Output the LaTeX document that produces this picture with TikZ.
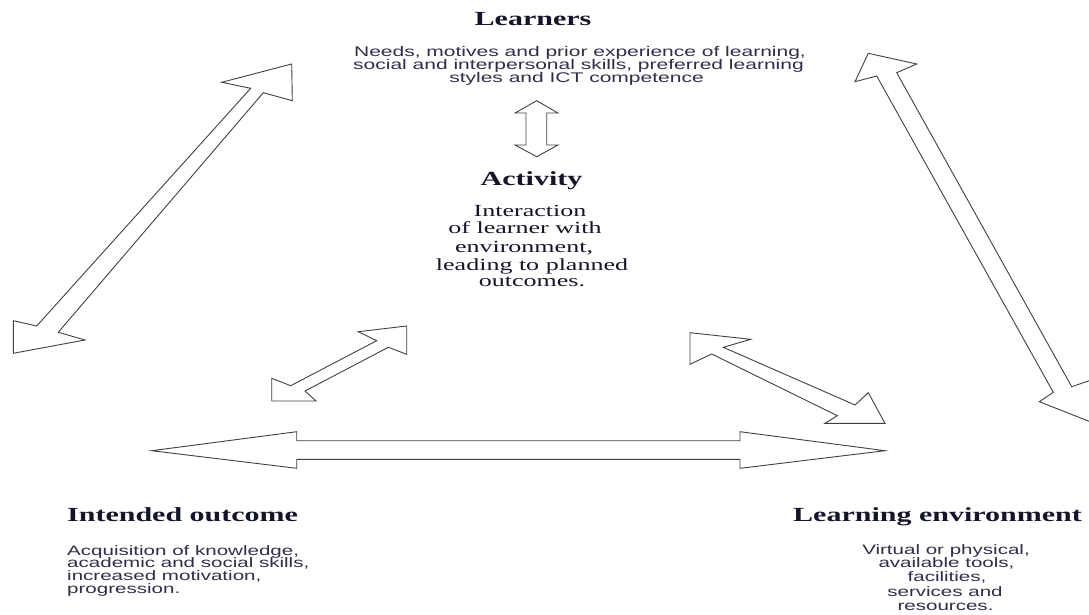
\documentclass[tikz,border=0pt]{standalone}
\usepackage{fontspec}
\newfontfamily\headfont{Liberation Serif}[FakeStretch=1.5]
\newfontfamily\bodyserif{Liberation Serif}[FakeStretch=1.53]
\newfontfamily\bodysans{Liberation Sans}[FakeStretch=1.5]
\definecolor{headcol}{HTML}{15152A}
\definecolor{bodycol}{HTML}{2E2E48}
\begin{document}
\begin{tikzpicture}[x=1pt,y=-1pt,
  heading/.style={font={\headfont\bfseries\fontsize{20}{24}\selectfont}, text=headcol, inner sep=0pt},
  sanstext/.style={font={\bodysans\fontsize{14}{16}\selectfont}, text=bodycol, inner sep=0pt, anchor=base},
  sanslow/.style={font={\bodysans\fontsize{13.7}{16}\selectfont}, text=bodycol, inner sep=0pt, anchor=base},
  seriftext/.style={font={\bodyserif\fontsize{17}{20}\selectfont}, text=headcol, inner sep=0pt, anchor=base},
  blockarrow/.style={draw=black!75, line width=0.9pt, fill=white, line join=miter}
]
\useasboundingbox (0,0) rectangle (1089,615);
\clip (0,0) rectangle (1089,615);

% headings
\node[heading, anchor=base] (learners) at (533,26) {Learners};
\node[heading, anchor=base] (activity) at (531.5,185) {Activity};
\node[heading, anchor=base west] (outcome) at (67,521.7) {Intended outcome};
\node[heading, anchor=base west] (environment) at (793,521.7) {Learning environment};

% learners description
\node[sanstext] (learnersA) at (580,56.7) {Needs, motives and prior experience of learning,};
\node[sanstext] (learnersB) at (578.5,69.5) {social and interpersonal skills, preferred learning};
\node[sanstext] (learnersC) at (576.5,82.7) {styles and ICT competence};

% activity description
\node[seriftext] (activityA) at (530,216.7) {Interaction};
\node[seriftext] (activityB) at (525,233.5) {of learner with};
\node[seriftext] (activityC) at (524,252) {environment,};
\node[seriftext] (activityD) at (532,270) {leading to planned};
\node[seriftext] (activityE) at (532,286.7) {outcomes.};

% intended outcome description
\node[sanslow, anchor=base west] (outcomeA) at (67,555) {Acquisition of knowledge,};
\node[sanslow, anchor=base west] (outcomeB) at (67,567.5) {academic and social skills,};
\node[sanslow, anchor=base west] (outcomeC) at (67,580) {increased motivation,};
\node[sanslow, anchor=base west] (outcomeD) at (67,593.3) {progression.};

% learning environment description
\node[sanslow] (environmentA) at (946,554) {Virtual or physical,};
\node[sanslow] (environmentB) at (946.5,567.3) {available tools,};
\node[sanslow] (environmentC) at (947,581.7) {facilities,};
\node[sanslow] (environmentD) at (945,596.7) {services and};
\node[sanslow] (environmentE) at (945.5,610.7) {resources.};

% block arrows
% learners <-> intended outcome
\draw[blockarrow] (291.7,64) -- (221.7,82.3) -- (250.7,88.3) -- (36.7,326) -- (13.3,320.7)
  -- (13.3,353.3) -- (85,340) -- (58.3,332.3) -- (263.3,92.7) -- (292.3,100.7) -- cycle;
% learners <-> learning environment
\draw[blockarrow] (868.3,53.3) -- (916.7,64) -- (896.7,72.7) -- (1071.7,386.7) -- (1100,377)
  -- (1106,428) -- (1039.3,401.7) -- (1053.3,392.3) -- (876.7,76) -- (855,81.7) -- cycle;
% learners <-> activity
\draw[blockarrow] (536.7,100.7) -- (558,113) -- (546.7,113) -- (546.7,145) -- (558,145)
  -- (536.7,156.7) -- (515,145) -- (526,145) -- (526,113) -- (515,113) -- cycle;
% activity <-> intended outcome
\draw[blockarrow] (406.7,326) -- (358.3,331.7) -- (376.7,340.7) -- (290.7,385.7) -- (271.7,378.3)
  -- (271.7,401) -- (316,401) -- (305,391) -- (388.3,347.3) -- (406.7,354.3) -- cycle;
% activity <-> learning environment
\draw[blockarrow] (690,332.7) -- (750.7,339.3) -- (723.3,347.3) -- (855,405) -- (868.3,392.7)
  -- (885,423.3) -- (825,423.3) -- (837.3,415.7) -- (711.7,354) -- (690,364.3) -- cycle;
% intended outcome <-> learning environment
\draw[blockarrow] (151.7,450.7) -- (296.7,431.7) -- (296.7,440.7) -- (740,440.7) -- (740,431.7)
  -- (885,450.7) -- (740,468.3) -- (740,459.3) -- (296.7,459.3) -- (296.7,468.3) -- cycle;
\end{tikzpicture}
\end{document}
